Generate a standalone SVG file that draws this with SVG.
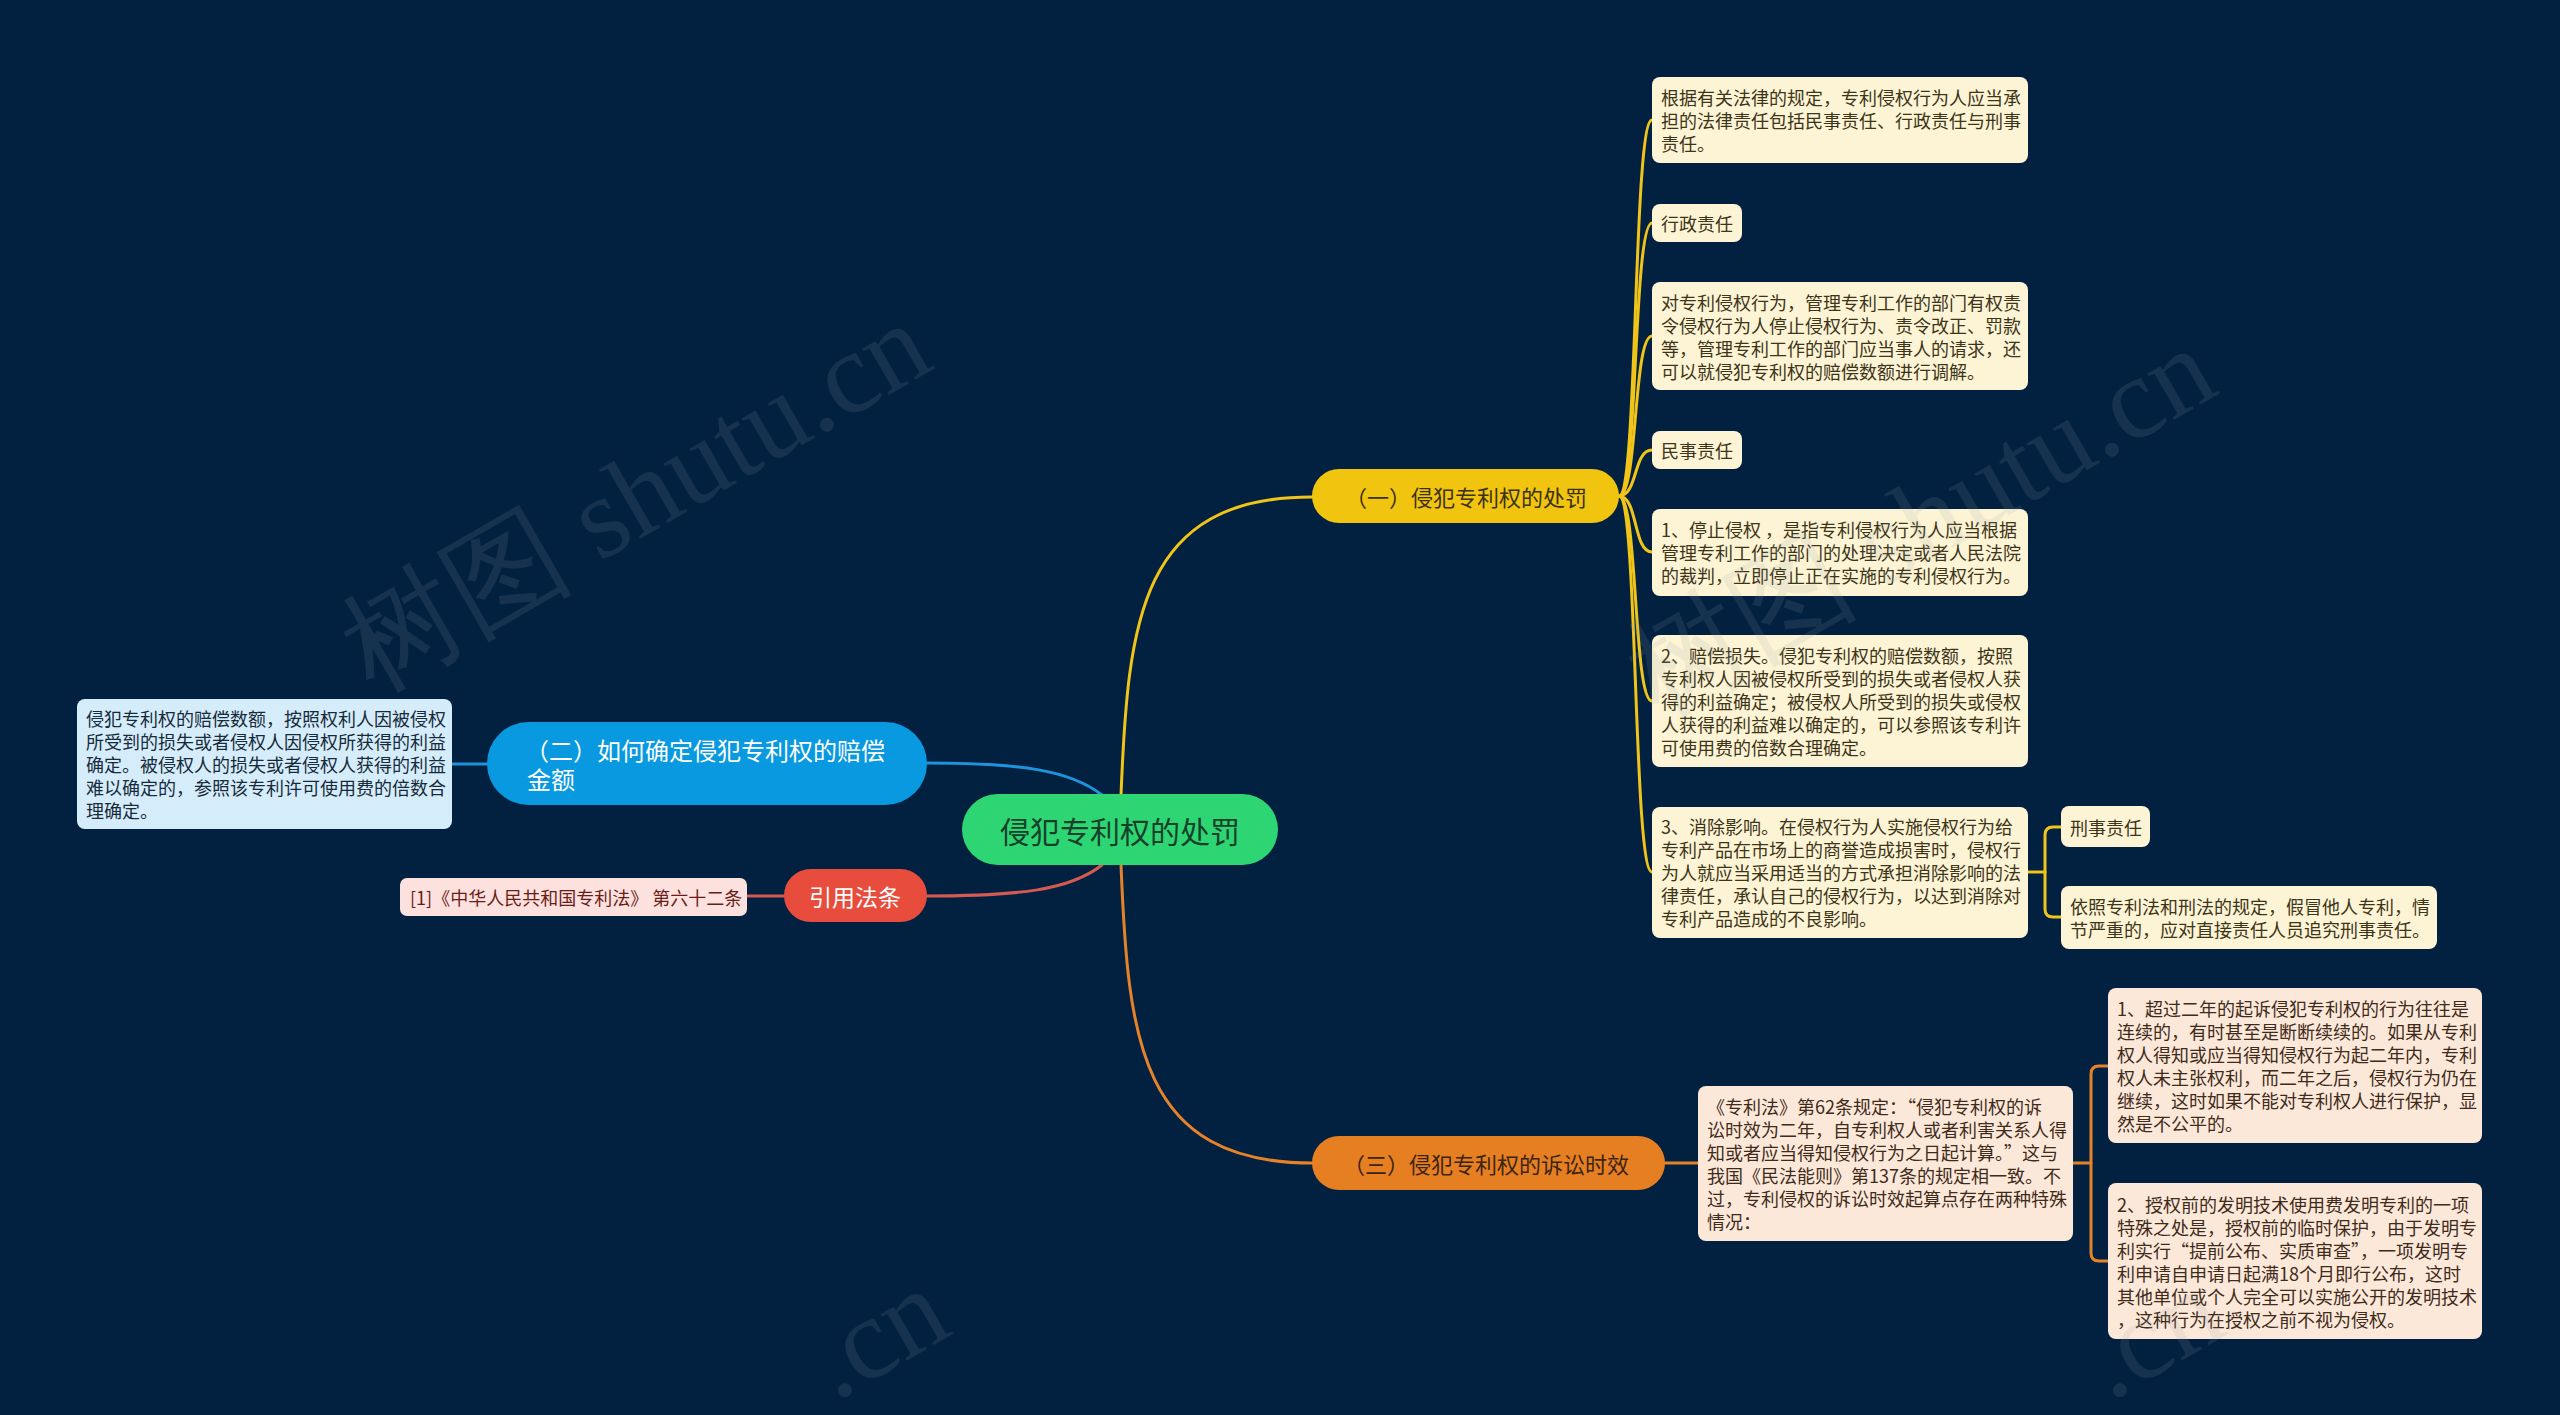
<svg xmlns="http://www.w3.org/2000/svg" width="2560" height="1415" viewBox="0 0 2560 1415">
<style>
text{font-family:"Noto Sans CJK SC","Noto Sans",sans-serif;dominant-baseline:central}
.lf{font-size:18px}
.ly rect{fill:#fcf4d4}
.ly text{fill:#3d3519}
.lo rect{fill:#fce8d8}
.lo text{fill:#3e2b1b}
.c{fill:none;stroke-width:3;stroke-linecap:round}
.cy{stroke:#f0c419}
.co{stroke:#e6832a}
.cb{stroke:#1e94dc}
.cr{stroke:#d65a52}
.wm{font-family:"Liberation Serif",serif;font-size:116px;fill:#9aa3ad;opacity:0.13;dominant-baseline:auto}
</style>
<rect width="2560" height="1415" fill="#022140"/>
<g id="connectors">
<path class="c cy" d="M1121 795 C1128 620 1140 497 1312 497"/>
<path class="c co" d="M1121 865 C1128 1040 1140 1163 1312 1163"/>
<path class="c cb" d="M927 763 C1020 763 1070 770 1102 795"/>
<path class="c cr" d="M926 896 C1020 896 1070 890 1102 865"/>
<path class="c cb" d="M452 764 H487"/>
<path class="c cr" d="M747 896 H784"/>
<path class="c cy" d="M1619 496 C1638 496 1633 120 1652 120"/>
<path class="c cy" d="M1619 496 C1638 496 1633 223 1652 223"/>
<path class="c cy" d="M1619 496 C1638 496 1633 336 1652 336"/>
<path class="c cy" d="M1619 496 C1638 496 1633 450 1652 450"/>
<path class="c cy" d="M1619 496 C1638 496 1633 552 1652 552"/>
<path class="c cy" d="M1619 496 C1638 496 1633 701 1652 701"/>
<path class="c cy" d="M1619 496 C1638 496 1633 872 1652 872"/>
<path class="c cy" d="M2028 872 H2045"/>
<path class="c cy" d="M2061 827 H2053 Q2045 827 2045 835 V909 Q2045 917 2053 917 H2061"/>
<path class="c co" d="M1665 1163 H1698"/>
<path class="c co" d="M2073 1163 H2091"/>
<path class="c co" d="M2108 1066 H2099 Q2091 1066 2091 1074 V1253 Q2091 1261 2099 1261 H2108"/>
</g>
<g id="center">
<rect x="962" y="794" width="316" height="71" rx="35.5" fill="#2ed573"/>
<text x="1120" y="830" text-anchor="middle" font-size="30" fill="#17402a">侵犯专利权的处罚</text>
</g>
<g id="n1">
<rect x="1312" y="469" width="307" height="54" rx="27" fill="#f1c40f"/>
<text x="1466" y="496" text-anchor="middle" font-size="22" fill="#3b3210">（一）侵犯专利权的处罚</text>
</g>
<g id="n3">
<rect x="1312" y="1136" width="353" height="54" rx="27" fill="#e67e22"/>
<text x="1486" y="1163" text-anchor="middle" font-size="22" fill="#3b2410">（三）侵犯专利权的诉讼时效</text>
</g>
<g id="n2">
<rect x="487" y="722" width="440" height="83" rx="41.5" fill="#0899e0"/>
<text font-size="24" fill="#ffffff"><tspan x="525" y="749">（二）如何确定侵犯专利权的赔偿</tspan><tspan x="527" y="778">金额</tspan></text>
</g>
<g id="ref">
<rect x="784" y="869" width="143" height="53" rx="26.5" fill="#e74c3c"/>
<text x="855" y="896" text-anchor="middle" font-size="23" fill="#ffffff">引用法条</text>
</g>
<g id="ref-leaf">
<rect x="400" y="878" width="347" height="38" rx="7" fill="#fde1df"/>
<text x="410" y="897" class="lf" fill="#6a1d17">[1]《中华人民共和国专利法》 第六十二条</text>
</g>
<g id="n2-leaf">
<rect x="77" y="699" width="375" height="130" rx="8" fill="#d5edfa"/>
<text class="lf" fill="#172a3a"><tspan x="86" y="718">侵犯专利权的赔偿数额，按照权利人因被侵权</tspan><tspan x="86" y="741">所受到的损失或者侵权人因侵权所获得的利益</tspan><tspan x="86" y="764">确定。被侵权人的损失或者侵权人获得的利益</tspan><tspan x="86" y="787">难以确定的，参照该专利许可使用费的倍数合</tspan><tspan x="86" y="810">理确定。</tspan></text>
</g>
<g id="l1" class="ly">
<rect x="1652" y="77" width="376" height="86" rx="8"/>
<text class="lf"><tspan x="1661" y="97">根据有关法律的规定，专利侵权行为人应当承</tspan><tspan x="1661" y="120">担的法律责任包括民事责任、行政责任与刑事</tspan><tspan x="1661" y="143">责任。</tspan></text>
</g>
<g id="l2" class="ly">
<rect x="1652" y="204" width="90" height="38" rx="8"/>
<text class="lf" x="1661" y="223">行政责任</text>
</g>
<g id="l3" class="ly">
<rect x="1652" y="282" width="376" height="108" rx="8"/>
<text class="lf"><tspan x="1661" y="301.5">对专利侵权行为，管理专利工作的部门有权责</tspan><tspan x="1661" y="324.5">令侵权行为人停止侵权行为、责令改正、罚款</tspan><tspan x="1661" y="347.5">等，管理专利工作的部门应当事人的请求，还</tspan><tspan x="1661" y="370.5">可以就侵犯专利权的赔偿数额进行调解。</tspan></text>
</g>
<g id="l4" class="ly">
<rect x="1652" y="431" width="90" height="38" rx="8"/>
<text class="lf" x="1661" y="450">民事责任</text>
</g>
<g id="l5" class="ly">
<rect x="1652" y="509" width="376" height="87" rx="8"/>
<text class="lf"><tspan x="1661" y="529">1、停止侵权 ，是指专利侵权行为人应当根据</tspan><tspan x="1661" y="552">管理专利工作的部门的处理决定或者人民法院</tspan><tspan x="1661" y="575">的裁判，立即停止正在实施的专利侵权行为。</tspan></text>
</g>
<g id="l6" class="ly">
<rect x="1652" y="635" width="376" height="132" rx="8"/>
<text class="lf"><tspan x="1661" y="655">2、赔偿损失。侵犯专利权的赔偿数额，按照</tspan><tspan x="1661" y="678">专利权人因被侵权所受到的损失或者侵权人获</tspan><tspan x="1661" y="701">得的利益确定；被侵权人所受到的损失或侵权</tspan><tspan x="1661" y="724">人获得的利益难以确定的，可以参照该专利许</tspan><tspan x="1661" y="747">可使用费的倍数合理确定。</tspan></text>
</g>
<g id="l7" class="ly">
<rect x="1652" y="807" width="376" height="131" rx="8"/>
<text class="lf"><tspan x="1661" y="826">3、消除影响。在侵权行为人实施侵权行为给</tspan><tspan x="1661" y="849">专利产品在市场上的商誉造成损害时，侵权行</tspan><tspan x="1661" y="872">为人就应当采用适当的方式承担消除影响的法</tspan><tspan x="1661" y="895">律责任，承认自己的侵权行为，以达到消除对</tspan><tspan x="1661" y="918">专利产品造成的不良影响。</tspan></text>
</g>
<g id="l8" class="ly">
<rect x="2061" y="806" width="89" height="41" rx="8"/>
<text class="lf" x="2070" y="826.5">刑事责任</text>
</g>
<g id="l9" class="ly">
<rect x="2061" y="886" width="376" height="63" rx="8"/>
<text class="lf"><tspan x="2070" y="906">依照专利法和刑法的规定，假冒他人专利，情</tspan><tspan x="2070" y="929">节严重的，应对直接责任人员追究刑事责任。</tspan></text>
</g>
<g id="l10" class="lo">
<rect x="1698" y="1086" width="375" height="155" rx="8"/>
<text class="lf"><tspan x="1707" y="1106">《专利法》第62条规定：“侵犯专利权的诉</tspan><tspan x="1707" y="1129">讼时效为二年，自专利权人或者利害关系人得</tspan><tspan x="1707" y="1152">知或者应当得知侵权行为之日起计算。”这与</tspan><tspan x="1707" y="1175">我国《民法能则》第137条的规定相一致。不</tspan><tspan x="1707" y="1198">过，专利侵权的诉讼时效起算点存在两种特殊</tspan><tspan x="1707" y="1221">情况：</tspan></text>
</g>
<g id="l11" class="lo">
<rect x="2108" y="988" width="374" height="155" rx="8"/>
<text class="lf"><tspan x="2117" y="1008">1、超过二年的起诉侵犯专利权的行为往往是</tspan><tspan x="2117" y="1031">连续的，有时甚至是断断续续的。如果从专利</tspan><tspan x="2117" y="1054">权人得知或应当得知侵权行为起二年内，专利</tspan><tspan x="2117" y="1077">权人未主张权利，而二年之后，侵权行为仍在</tspan><tspan x="2117" y="1100">继续，这时如果不能对专利权人进行保护，显</tspan><tspan x="2117" y="1123">然是不公平的。</tspan></text>
</g>
<g id="l12" class="lo">
<rect x="2108" y="1183" width="374" height="156" rx="8"/>
<text class="lf"><tspan x="2117" y="1203.5">2、授权前的发明技术使用费发明专利的一项</tspan><tspan x="2117" y="1226.5">特殊之处是，授权前的临时保护，由于发明专</tspan><tspan x="2117" y="1249.5">利实行“提前公布、实质审查”，一项发明专</tspan><tspan x="2117" y="1272.5">利申请自申请日起满18个月即行公布，这时</tspan><tspan x="2117" y="1295.5">其他单位或个人完全可以实施公开的发明技术</tspan><tspan x="2117" y="1318.5">，这种行为在授权之前不视为侵权。</tspan></text>
</g>
<g id="watermark">
<text class="wm" transform="translate(655 530) rotate(-30)" text-anchor="middle">树图 shutu.cn</text>
<text class="wm" transform="translate(1940 555) rotate(-30)" text-anchor="middle">树图 shutu.cn</text>
<text class="wm" transform="translate(835 1402) rotate(-30)">.cn</text>
<text class="wm" transform="translate(2110 1402) rotate(-30)">.cn</text>
</g>
</svg>
